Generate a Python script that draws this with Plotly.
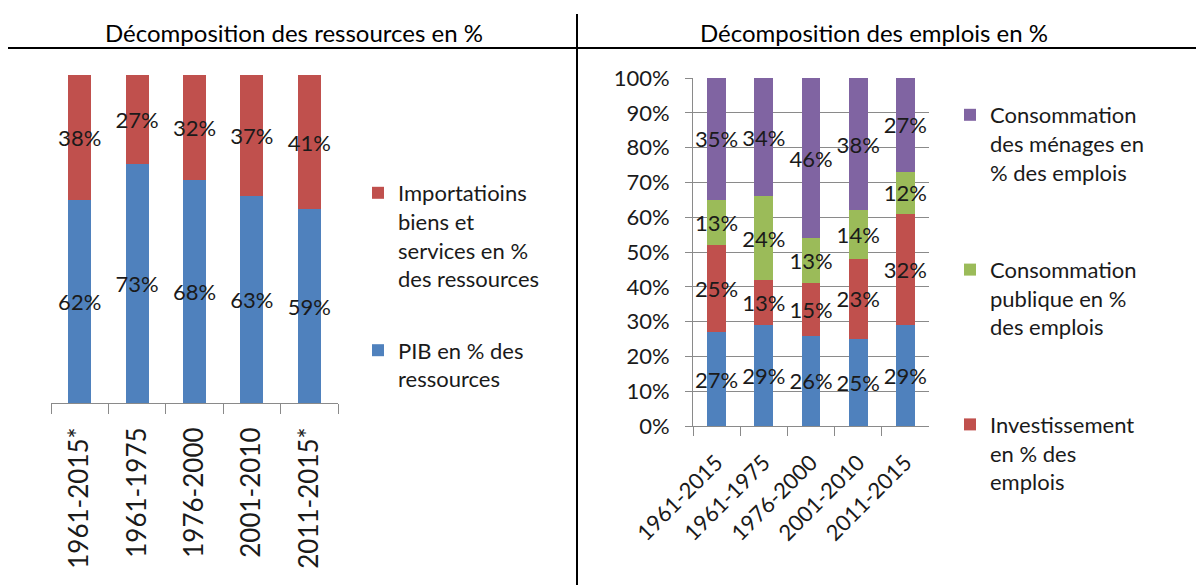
import plotly.graph_objects as go

# ---- data ----
periods_left = ["1961-2015*", "1961-1975", "1976-2000", "2001-2010", "2011-2015*"]
pib_pct = [62, 73, 68, 63, 59]
import_pct = [38, 27, 32, 37, 41]

periods_right = ["1961-2015", "1961-1975", "1976-2000", "2001-2010", "2011-2015"]
blue_pct = [27, 29, 26, 25, 29]
invest_pct = [25, 13, 15, 23, 32]
conso_pub_pct = [13, 24, 13, 14, 12]
conso_men_pct = [35, 34, 46, 38, 27]

title_left = "Décomposition des ressources en %"
title_right = "Décomposition des emplois en %"

BLUE = "#4F81BD"
RED = "#C0504D"
GREEN = "#9BBB59"
PURPLE = "#8064A2"
FONT = "Lato"
TXT = "#1a1a1a"

W, H = 1196, 585

def px_x(p):
    return p / W

def px_y(p):
    return 1 - p / H

fig = go.Figure()

def bar(x, y, name, color, xa, ya, legend, group, rank, showlegend=True):
    return go.Bar(
        x=x, y=y, name=name, marker=dict(color=color, line=dict(width=0)),
        xaxis=xa, yaxis=ya, legend=legend, legendgroup=group, legendrank=rank,
        showlegend=showlegend,
        text=[f"{v}%" for v in y], textposition="inside", textangle=0,
        insidetextanchor="middle", constraintext="none",
        textfont=dict(family=FONT, size=22, color=TXT),
        hoverinfo="skip",
    )

# left chart
fig.add_trace(bar(periods_left, pib_pct, "PIB en % des<br>ressources", BLUE, "x", "y", "legend", "l1", 2))
fig.add_trace(bar(periods_left, import_pct,
                  "Importatioins<br>biens et<br>services en %<br>des ressources", RED, "x", "y", "legend", "l2", 1))

# right chart
fig.add_trace(bar(periods_right, blue_pct, "Autres", BLUE, "x2", "y2", "legend2", "r0", 4, showlegend=False))
fig.add_trace(bar(periods_right, invest_pct, "Investissement<br>en % des<br>emplois", RED, "x2", "y2", "legend2", "r1", 3))
fig.add_trace(bar(periods_right, conso_pub_pct, "Consommation<br>publique en %<br>des emplois", GREEN, "x2", "y2", "legend2", "r2", 2))
fig.add_trace(bar(periods_right, conso_men_pct, "Consommation<br>des ménages en<br>% des emplois", PURPLE, "x2", "y2", "legend2", "r3", 1))

axis_font = dict(family=FONT, size=22, color=TXT)

fig.update_layout(
    width=W, height=H,
    margin=dict(l=0, r=0, t=0, b=0, autoexpand=False),
    paper_bgcolor="white", plot_bgcolor="white",
    barmode="stack", bargap=0.6,
    font=dict(family=FONT, size=22, color=TXT),
    xaxis=dict(domain=[px_x(51), px_x(338)], anchor="y", type="category", automargin=False,
               showline=True, linecolor="#8a8a8a", linewidth=1,
               ticks="outside", tickson="boundaries", ticklen=10, tickcolor="#8a8a8a",
               tickangle=-90, tickfont=dict(family=FONT, size=26, color=TXT),
               ticklabelstandoff=13, showgrid=False, zeroline=False),
    yaxis=dict(domain=[px_y(403), px_y(75)], anchor="x", range=[0, 100], automargin=False,
               visible=False, showgrid=False, zeroline=False),
    xaxis2=dict(domain=[px_x(693), px_x(929)], anchor="y2", type="category", automargin=False,
                showline=True, linecolor="#8a8a8a", linewidth=1,
                ticks="outside", tickson="boundaries", ticklen=9, tickcolor="#8a8a8a",
                tickangle=-45, tickfont=axis_font, ticklabelstandoff=14,
                showgrid=False, zeroline=False),
    yaxis2=dict(domain=[px_y(426), px_y(78)], anchor="x2", range=[0, 100], automargin=False,
                dtick=10, ticksuffix="%", tickfont=axis_font, ticklabelstandoff=11,
                showline=True, linecolor="#8a8a8a", linewidth=1,
                ticks="outside", ticklen=7, tickcolor="#8a8a8a",
                showgrid=True, gridcolor="#8a8a8a", gridwidth=1, zeroline=False),
    legend=dict(x=px_x(358), y=px_y(172), xanchor="left", yanchor="top",
                traceorder="grouped", tracegroupgap=40, valign="top",
                font=dict(family=FONT, size=22, color=TXT), itemwidth=30,
                bgcolor="rgba(0,0,0,0)"),
    legend2=dict(x=px_x(950), y=px_y(94), xanchor="left", yanchor="top",
                 traceorder="grouped", tracegroupgap=66, valign="top",
                 font=dict(family=FONT, size=22, color=TXT), itemwidth=30,
                 bgcolor="rgba(0,0,0,0)"),
    showlegend=True,
)

fig.add_annotation(text=title_left, xref="paper", yref="paper",
                   x=px_x(294), y=px_y(32), xanchor="center", yanchor="middle",
                   showarrow=False, font=dict(family=FONT, size=24, color="#000"))
fig.add_annotation(text=title_right, xref="paper", yref="paper",
                   x=px_x(874), y=px_y(32), xanchor="center", yanchor="middle",
                   showarrow=False, font=dict(family=FONT, size=24, color="#000"))

fig.add_shape(type="line", xref="paper", yref="paper",
              x0=px_x(8), x1=1, y0=px_y(48), y1=px_y(48),
              line=dict(color="black", width=2))
fig.add_shape(type="line", xref="paper", yref="paper",
              x0=px_x(577), x1=px_x(577), y0=px_y(14), y1=0,
              line=dict(color="black", width=2))

fig.write_html("out.html", config={"displayModeBar": False},
               post_script="document.body.style.margin='0px';")
